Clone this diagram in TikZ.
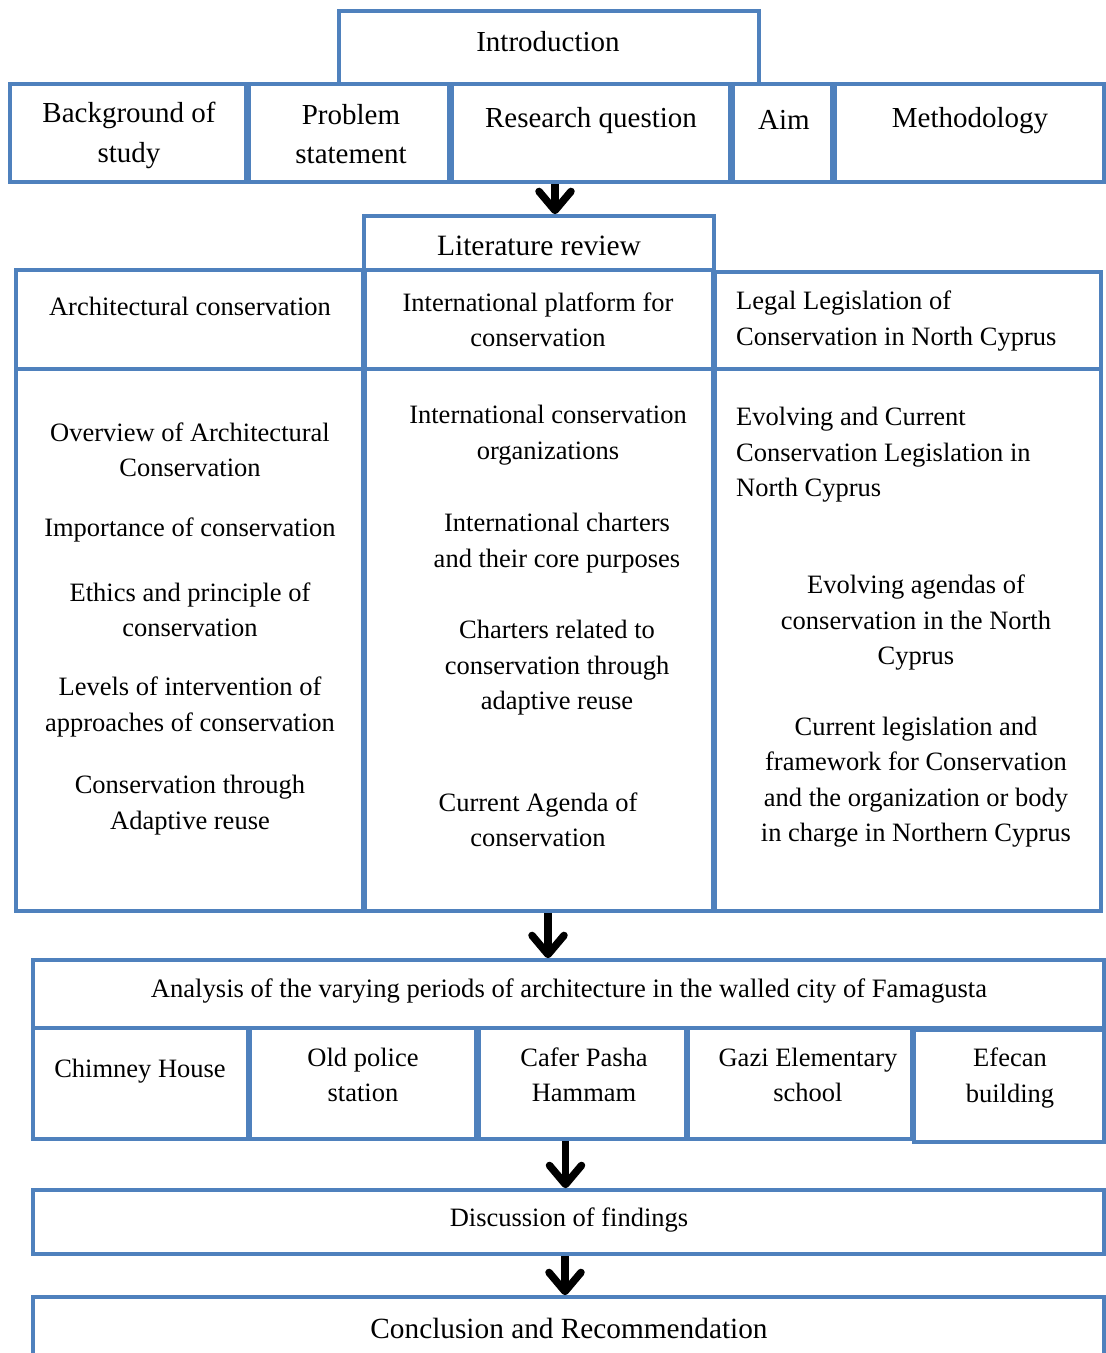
\documentclass[tikz,border=0pt]{standalone}
\usepackage{fontspec}
\setmainfont{Liberation Serif}
\usetikzlibrary{arrows.meta}
\definecolor{bl}{RGB}{79,129,189}
\begin{document}
\begin{tikzpicture}[x=1pt,y=-1pt,
  box/.style={draw=bl, line width=3.6pt, rectangle, inner sep=0pt},
  txt/.style={font=\fontsize{26.5}{35.5}\selectfont, align=center, inner sep=0pt},
  big/.style={font=\fontsize{29}{39.5}\selectfont, align=center, inner sep=0pt},
  arr/.style={line width=7.5pt, -{Straight Barb[length=19pt,width=32pt,round]}}]
\useasboundingbox (0,0) rectangle (1106,1353);
\clip (0,0) rectangle (1106,1353);
% Introduction
\node[box, minimum width=420pt, minimum height=73pt] (intro) at (549,47.5) {};
\node[big] (tintro) at (548,42) {Introduction};
% row 1
\node[box, minimum width=236pt, minimum height=98pt] (bg) at (128,133) {};
\node[box, minimum width=200pt, minimum height=98pt] (prob) at (349,133) {};
\node[box, minimum width=278pt, minimum height=98pt] (rq) at (591,133) {};
\node[box, minimum width=99pt, minimum height=98pt] (aim) at (782.5,133) {};
\node[box, minimum width=269pt, minimum height=98pt] (meth) at (969.5,133) {};
\node[big] (tbg) at (129,135.5) {Background of\\study};
\node[big] (tprob) at (351,134) {Problem\\statement};
\node[big] (trq) at (591,121) {Research question};
\node[big] (taim) at (784,120) {Aim};
\node[big] (tmeth) at (970,121) {Methodology};
% Literature review
\node[box, minimum width=350pt, minimum height=54pt] (lit) at (539,243) {};
\node[big, font=\fontsize{29.5}{39}\selectfont] (tlit) at (539,246) {Literature review};
% column headers
\node[box, minimum width=347pt, minimum height=99pt] (h1) at (189.5,319.5) {};
\node[box, minimum width=348pt, minimum height=99pt] (h2) at (539,319.5) {};
\node[box, minimum width=386pt, minimum height=97pt] (h3) at (908,320.5) {};
\node[txt] (th1) at (190,306) {Architectural conservation};
\node[txt] (th2) at (538,320) {International platform for\\conservation};
\node[txt, anchor=west, align=left] (th3) at (736,321) {Legal Legislation of\\Conservation in North Cyprus};
% column bodies
\node[box, minimum width=347pt, minimum height=542pt] (b1) at (189.5,640) {};
\node[box, minimum width=348pt, minimum height=542pt] (b2) at (539,640) {};
\node[box, minimum width=386pt, minimum height=542pt] (b3) at (908,640) {};
\node[txt] (t11) at (190,450) {Overview of Architectural\\Conservation};
\node[txt] (t12) at (190,530) {Importance of conservation};
\node[txt] (t13) at (190,610) {Ethics and principle of\\conservation};
\node[txt] (t14) at (190,707) {Levels of intervention of\\approaches of conservation};
\node[txt] (t15) at (190,805) {Conservation through\\Adaptive reuse};
\node[txt] (t21) at (548,435) {International conservation\\organizations};
\node[txt] (t22) at (557,543) {International charters\\and their core purposes};
\node[txt] (t23) at (557,668) {Charters related to\\conservation through\\adaptive reuse};
\node[txt] (t24) at (538,820) {Current Agenda of\\conservation};
\node[txt, anchor=west, align=left] (t31) at (736,455) {Evolving and Current\\Conservation Legislation in\\North Cyprus};
\node[txt] (t32) at (916,623) {Evolving agendas of\\conservation in the North\\Cyprus};
\node[txt] (t33) at (916,782) {Current legislation and\\framework for Conservation\\and the organization or body\\in charge in Northern Cyprus};
% Analysis
\node[box, minimum width=1071pt, minimum height=68pt] (ana) at (568.5,994) {};
\node[txt, font=\fontsize{26.6}{35}\selectfont] (tana) at (569,991) {Analysis of the varying periods of architecture in the walled city of Famagusta};
\node[box, minimum width=215pt, minimum height=111pt] (chim) at (140.5,1083.5) {};
\node[box, minimum width=226pt, minimum height=111pt] (old) at (363,1083.5) {};
\node[box, minimum width=207pt, minimum height=111pt] (cafer) at (582.5,1083.5) {};
\node[box, minimum width=224pt, minimum height=111pt] (gazi) at (800,1083.5) {};
\node[box, minimum width=190pt, minimum height=112pt] (efe) at (1009,1086) {};
\node[txt] (tchim) at (140,1071) {Chimney House};
\node[txt] (told) at (363,1075) {Old police\\station};
\node[txt] (tcafer) at (584,1075) {Cafer Pasha\\Hammam};
\node[txt] (tgazi) at (808,1075) {Gazi Elementary\\school};
\node[txt] (tefe) at (1010,1078) {Efecan\\building};
% Discussion
\node[box, minimum width=1071pt, minimum height=64pt] (disc) at (568.5,1222) {};
\node[txt] (tdisc) at (569,1220) {Discussion of findings};
% Conclusion
\node[box, minimum width=1071pt, minimum height=103pt] (conc) at (568.5,1348.5) {};
\node[big, font=\fontsize{29.3}{38}\selectfont] (tconc) at (569,1328) {Conclusion and Recommendation};
% arrows
\draw[arr] ([xshift=16pt]lit.north |- rq.south) -- ([xshift=16pt]lit.north);
\draw[arr] ([xshift=9pt]b2.south) -- ([xshift=9pt]b2.south |- ana.north);
\draw[arr] ([xshift=-17pt]cafer.south) -- ([xshift=-17pt]cafer.south |- disc.north);
\draw[arr] ([xshift=-3.5pt]disc.south) -- ([xshift=-3.5pt]conc.north);
\end{tikzpicture}
\end{document}
